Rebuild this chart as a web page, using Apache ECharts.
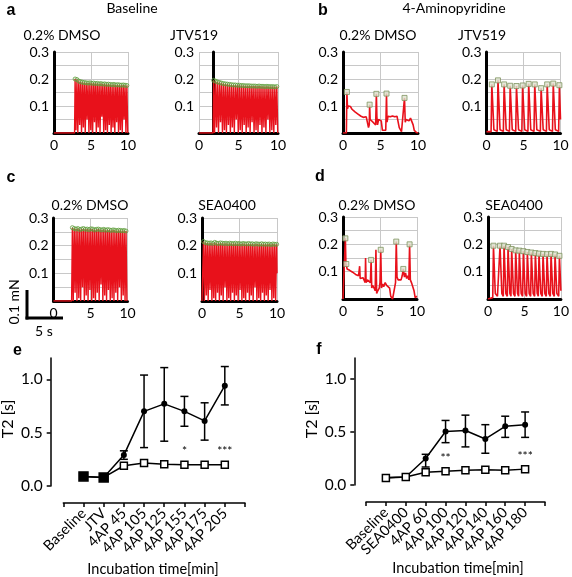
<!DOCTYPE html>
<html><head><meta charset="utf-8">
<script src="https://cdn.jsdelivr.net/npm/echarts@6/dist/echarts.min.js"></script>
<style>html,body{margin:0;padding:0;background:#fff}#c{width:572px;height:577px}</style>
</head><body><div id="c"></div>
<script>
// ---------- Top panels: force traces (time [s], force [mN]) ----------
const aL_trace = [[0,0],[2.78,0],
[2.85,0.200],[2.97,0.01],[3.1,0.198],[3.22,0],[3.35,0.192],[3.47,0.03],[3.6,0.19],[3.72,0],[3.85,0.188],[3.97,0.02],[4.1,0.187],[4.22,0],[4.35,0.186],[4.47,0.05],[4.6,0.185],[4.72,0],[4.85,0.186],[4.97,0.01],[5.1,0.184],[5.22,0],[5.35,0.185],[5.47,0.04],[5.6,0.183],[5.72,0],[5.85,0.184],[5.97,0.02],[6.1,0.182],[6.22,0],[6.35,0.183],[6.47,0.06],[6.6,0.181],[6.72,0],[6.85,0.182],[6.97,0.01],[7.1,0.18],[7.22,0],[7.35,0.181],[7.47,0.03],[7.6,0.18],[7.72,0],[7.85,0.179],[7.97,0.02],[8.1,0.18],[8.22,0],[8.35,0.178],[8.47,0.04],[8.6,0.179],[8.72,0],[8.85,0.178],[8.97,0.01],[9.1,0.177],[9.22,0],[9.35,0.178],[9.47,0.05],[9.6,0.177],[9.72,0],[9.85,0.176],[9.97,0]];
const aR_trace = [[0,0],[1.78,0],
[1.85,0.195],[1.97,0],[2.1,0.192],[2.22,0.02],[2.35,0.189],[2.47,0],[2.6,0.187],[2.72,0.04],[2.85,0.185],[2.97,0],[3.1,0.183],[3.22,0.01],[3.35,0.182],[3.47,0],[3.6,0.181],[3.72,0.03],[3.85,0.18],[3.97,0],[4.1,0.179],[4.22,0.02],[4.35,0.178],[4.47,0],[4.6,0.178],[4.72,0.05],[4.85,0.177],[4.97,0],[5.1,0.177],[5.22,0.01],[5.35,0.176],[5.47,0],[5.6,0.176],[5.72,0.03],[5.85,0.175],[5.97,0],[6.1,0.175],[6.22,0.02],[6.35,0.175],[6.47,0],[6.6,0.174],[6.72,0.04],[6.85,0.174],[6.97,0],[7.1,0.174],[7.22,0.01],[7.35,0.173],[7.47,0],[7.6,0.174],[7.72,0.03],[7.85,0.173],[7.97,0],[8.1,0.173],[8.22,0.02],[8.35,0.172],[8.47,0],[8.6,0.173],[8.72,0.05],[8.85,0.172],[8.97,0],[9.1,0.172],[9.22,0.01],[9.35,0.172],[9.47,0],[9.6,0.171],[9.72,0.03],[9.85,0.172],[9.97,0]];
const bL_trace = [[0,0],[0.45,0],[0.52,0.152],[0.6,0.09],[0.7,0.1],[0.85,0.095],[1.0,0.098],[1.2,0.088],[1.4,0.085],[1.6,0.078],[1.8,0.075],[2.0,0.07],[2.2,0.066],[2.4,0.062],[2.5,0.055],[2.7,0.058],[2.9,0.055],[3.1,0.06],[3.3,0.057],[3.4,0.02],[3.5,0.03],[3.55,0.105],[3.62,0.05],[3.8,0.045],[4.0,0.04],[4.2,0.035],[4.35,0.03],[4.45,0.145],[4.52,0.06],[4.6,0.03],[4.75,0.05],[4.9,0.045],[5.1,0.045],[5.25,0.01],[5.5,0.005],[5.7,0.01],[5.8,0.146],[5.87,0.04],[6.0,0.062],[6.3,0.06],[6.6,0.063],[6.9,0.06],[7.2,0.062],[7.4,0.055],[7.5,0.02],[7.8,0.005],[8.05,0.01],[8.2,0.13],[8.3,0.04],[8.4,0.05],[8.6,0.055],[8.8,0.045],[9.0,0.055],[9.2,0.05],[9.35,0.03],[9.5,0.01],[9.8,0.002],[10,0]];
const bL_marks = [[0.52,0.152],[3.55,0.105],[4.45,0.145],[5.8,0.146],[8.2,0.13]];
const bR_trace = [[0,0.005],[0.62,0.005],[0.72,0.18],[1.0,0.012],[1.45,0.006],[1.55,0.195],[1.83,0.012],[2.28,0.006],[2.38,0.18],[2.66,0.012],[3.1,0.006],[3.2,0.175],[3.48,0.012],[3.95,0.006],[4.05,0.174],[4.33,0.012],[4.78,0.006],[4.88,0.176],[5.16,0.012],[5.6,0.006],[5.7,0.182],[5.98,0.012],[6.42,0.006],[6.52,0.18],[6.8,0.012],[7.28,0.006],[7.38,0.166],[7.66,0.012],[8.1,0.006],[8.2,0.18],[8.48,0.012],[8.92,0.006],[9.02,0.183],[9.3,0.012],[9.75,0.006],[9.85,0.177],[10,0.05]];
const cL_trace = [[0,0],[2.45,0],
[2.55,0.265],[2.67,0],[2.8,0.262],[2.92,0.03],[3.05,0.26],[3.17,0],[3.3,0.262],[3.42,0.01],[3.55,0.258],[3.67,0],[3.8,0.26],[3.92,0.05],[4.05,0.262],[4.17,0],[4.3,0.259],[4.42,0.02],[4.55,0.26],[4.67,0],[4.8,0.258],[4.92,0.04],[5.05,0.261],[5.17,0],[5.3,0.26],[5.42,0.01],[5.55,0.257],[5.67,0],[5.8,0.259],[5.92,0.03],[6.05,0.26],[6.17,0],[6.3,0.258],[6.42,0.06],[6.55,0.257],[6.67,0],[6.8,0.259],[6.92,0.02],[7.05,0.256],[7.17,0],[7.3,0.258],[7.42,0.04],[7.55,0.257],[7.67,0],[7.8,0.255],[7.92,0.01],[8.05,0.257],[8.17,0],[8.3,0.256],[8.42,0.03],[8.55,0.254],[8.67,0],[8.8,0.256],[8.92,0.05],[9.05,0.255],[9.17,0],[9.3,0.254],[9.42,0.02],[9.55,0.255],[9.67,0],[9.8,0.253],[9.92,0]];
const cR_trace = [[0,0],[0.1,0],
[0.2,0.215],[0.32,0],[0.45,0.211],[0.57,0.02],[0.7,0.21],[0.82,0],[0.95,0.209],[1.07,0.04],[1.2,0.21],[1.32,0],[1.45,0.208],[1.57,0.01],[1.7,0.212],[1.82,0],[1.95,0.209],[2.07,0.03],[2.2,0.208],[2.32,0],[2.45,0.21],[2.57,0.02],[2.7,0.209],[2.82,0],[2.95,0.208],[3.07,0.05],[3.2,0.209],[3.32,0],[3.45,0.207],[3.57,0.01],[3.7,0.209],[3.82,0],[3.95,0.208],[4.07,0.03],[4.2,0.207],[4.32,0],[4.45,0.209],[4.57,0.02],[4.7,0.207],[4.82,0],[4.95,0.208],[5.07,0.04],[5.2,0.206],[5.32,0],[5.45,0.208],[5.57,0.01],[5.7,0.207],[5.82,0],[5.95,0.206],[6.07,0.03],[6.2,0.208],[6.32,0],[6.45,0.206],[6.57,0.02],[6.7,0.207],[6.82,0],[6.95,0.205],[7.07,0.05],[7.2,0.207],[7.32,0],[7.45,0.206],[7.57,0.01],[7.7,0.205],[7.82,0],[7.95,0.207],[8.07,0.03],[8.2,0.205],[8.32,0],[8.45,0.206],[8.57,0.02],[8.7,0.205],[8.82,0],[8.95,0.206],[9.07,0.04],[9.2,0.204],[9.32,0],[9.45,0.206],[9.57,0.01],[9.7,0.205],[9.82,0],[9.95,0.205],[10,0.1]];
const dL_trace = [[0,0],[0.25,0],[0.32,0.222],[0.4,0.12],[0.45,0.128],[0.55,0.11],[0.7,0.112],[0.9,0.105],[1.1,0.1],[1.3,0.098],[1.5,0.095],[1.7,0.09],[1.9,0.088],[2.1,0.085],[2.2,0.08],[2.25,0.12],[2.32,0.075],[2.5,0.082],[2.7,0.078],[2.9,0.075],[3.0,0.06],[3.05,0.15],[3.12,0.06],[3.3,0.07],[3.5,0.065],[3.7,0.06],[3.8,0.143],[3.88,0.04],[4.0,0.05],[4.2,0.04],[4.35,0.03],[4.45,0.18],[4.55,0.02],[4.7,0.03],[4.9,0.04],[5.0,0.06],[5.1,0.18],[5.2,0.04],[5.35,0.055],[5.5,0.045],[5.7,0.06],[5.9,0.05],[6.1,0.055],[6.3,0.04],[6.45,0.01],[6.7,0.0],[6.95,0.005],[7.1,0.06],[7.2,0.21],[7.3,0.08],[7.45,0.07],[7.65,0.075],[7.85,0.07],[8.0,0.085],[8.15,0.11],[8.3,0.08],[8.45,0.095],[8.6,0.075],[8.75,0.085],[8.9,0.07],[9.0,0.2],[9.1,0.07],[9.25,0.06],[9.45,0.055],[9.6,0.03],[9.75,0.005],[9.9,0.01],[10,0.01]];
const dL_marks = [[0.32,0.222],[0.45,0.128],[3.8,0.143],[5.1,0.18],[7.2,0.21],[8.15,0.11],[9.0,0.2]];
const dR_trace = [[0,0],[0.65,0.005],[0.75,0.195],[1.0,0.02],[1.3,0.01],[1.55,0.008],[1.65,0.195],[1.9,0.02],[2.1,0.01],[2.2,0.195],[2.45,0.02],[2.65,0.01],[2.75,0.19],[3.0,0.02],[3.15,0.01],[3.25,0.183],[3.5,0.02],[3.7,0.01],[3.8,0.178],[4.05,0.02],[4.2,0.01],[4.3,0.177],[4.55,0.02],[4.75,0.01],[4.85,0.175],[5.1,0.02],[5.3,0.01],[5.4,0.172],[5.65,0.02],[5.85,0.01],[5.95,0.17],[6.2,0.02],[6.4,0.01],[6.5,0.168],[6.75,0.02],[6.9,0.01],[7.0,0.166],[7.25,0.02],[7.45,0.01],[7.55,0.165],[7.8,0.02],[8.0,0.01],[8.1,0.164],[8.35,0.02],[8.55,0.01],[8.65,0.165],[8.9,0.02],[9.1,0.01],[9.2,0.163],[9.45,0.02],[9.7,0.01],[9.8,0.158],[10,0.03]];
const traceXTicks = [0, 5, 10];
const traceYTicks = [0.1, 0.2, 0.3];

// ---------- Bottom panels: T2 [s] ----------
const eCats = ['Baseline','JTV','4AP 45','4AP 105','4AP 125','4AP 155','4AP 175','4AP 205'];
const eCircle = [0.09, 0.08, 0.29, 0.70, 0.77, 0.70, 0.61, 0.94];
const eLo = [null, null, 0.25, 0.36, 0.42, 0.56, 0.43, 0.76];
const eHi = [null, null, 0.33, 1.04, 1.11, 0.84, 0.78, 1.12];
const eSquare = [0.09, 0.08, 0.19, 0.215, 0.205, 0.2, 0.2, 0.2];
const eStars = ['', '', '', '', '', '*', '', '***'];

const fCats = ['Baseline','SEA0400','4AP 60','4AP 100','4AP 120','4AP 140','4AP 160','4AP 180'];
const fCircle = [0.07, 0.075, 0.25, 0.505, 0.515, 0.435, 0.555, 0.57];
const fLo = [null, null, 0.17, 0.40, 0.36, 0.30, 0.45, 0.45];
const fHi = [null, null, 0.29, 0.61, 0.66, 0.57, 0.65, 0.69];
const fSquare = [0.065, 0.075, 0.12, 0.13, 0.14, 0.145, 0.14, 0.15];
const fStars = ['', '', '', '**', '', '', '', '***'];
const t2Ticks = [0, 0.5, 1.0];

// ---------- build ----------
const FONT = 'Lato, "Open Sans", sans-serif';
const RED = '#e8111b';
function peaksOf(tr){
  const out=[];
  for(let i=1;i<tr.length-1;i++){ if(tr[i][1]>tr[i-1][1] && tr[i][1]>=tr[i+1][1] && tr[i][1]>0.1) out.push(tr[i]); }
  return out;
}
const panels = [
  {tr:aL_trace, mk:null, sym:'circle', dense:true, g:{left:54,top:52,width:74,height:81}},
  {tr:aR_trace, mk:null, sym:'circle', dense:true, g:{left:199,top:52,width:79,height:81}, yOff:-14},
  {tr:bL_trace, mk:bL_marks, sym:'rect', g:{left:343,top:52,width:75,height:81}},
  {tr:bR_trace, mk:null, sym:'rect', g:{left:486.5,top:52,width:74,height:81}},
  {tr:cL_trace, mk:null, sym:'circle', dense:true, g:{left:53.5,top:218,width:74,height:83}},
  {tr:cR_trace, mk:null, sym:'circle', dense:true, g:{left:202,top:218,width:75,height:83}},
  {tr:dL_trace, mk:dL_marks, sym:'rect', g:{left:343,top:217,width:74,height:82}},
  {tr:dR_trace, mk:null, sym:'rect', g:{left:488,top:217,width:74,height:82}}
];
const grid=[], xAxis=[], yAxis=[], series=[];
panels.forEach((p,i)=>{
  grid.push(p.g);
  xAxis.push({gridIndex:i,type:'value',min:0,max:10,interval:5,
    axisLine:{show:true,onZero:false,lineStyle:{color:'#000',width:3}},
    axisTick:{show:false},
    axisLabel:{color:'#000',fontSize:14,fontFamily:FONT,margin:5,customValues:traceXTicks},
    splitLine:{show:true,lineStyle:{color:'#c8c8c8',width:1}}});
  const yi = yAxis.length;
  yAxis.push({gridIndex:i,type:'value',position:'left',min:0,max:0.3,interval:0.05,
    axisLine:{show:!p.yOff,onZero:false,lineStyle:{color:'#000',width:3}},
    axisTick:{show:false},
    axisLabel:{color:'#000',fontSize:14,fontFamily:FONT,margin:5,customValues:traceYTicks,formatter:v=>v.toFixed(1)},
    splitLine:{show:true,lineStyle:{color:'#c8c8c8',width:1}}});
  if(p.yOff){
    yAxis.push({gridIndex:i,type:'value',position:'left',min:0,max:0.3,offset:p.yOff,
      axisLine:{show:true,onZero:false,lineStyle:{color:'#000',width:3}},
      axisTick:{show:false},axisLabel:{show:false},splitLine:{show:false}});
  }
  series.push({type:'line',xAxisIndex:i,yAxisIndex:yi,data:p.tr,symbol:'none',silent:true,
    lineStyle:{color:RED,width:p.dense?1.4:1.6},z:2});
  const mk = p.mk || peaksOf(p.tr);
  series.push({type:'scatter',xAxisIndex:i,yAxisIndex:yi,data:mk,silent:true,
    symbol:p.sym,symbolSize:p.sym==='rect'?5:4,
    itemStyle: p.sym==='rect' ? {color:'#dfe3cf',borderColor:'#7f9460',borderWidth:1} : {color:'rgba(255,255,255,0)',borderColor:'#5f9e3c',borderWidth:1},z:3});
});

function t2Panel(gi, g, cats, circ, lo, hi, sq, stars, yOff){
  grid.push(g);
  const xi = xAxis.length, yi = yAxis.length;
  xAxis.push({gridIndex:gi,type:'value',min:-1,max:8,interval:1,offset:17,
    axisLine:{show:true,onZero:false,lineStyle:{color:'#000',width:1.5}},
    axisTick:{show:true,length:4,lineStyle:{color:'#000',width:1.5}},
    axisLabel:{rotate:45,fontSize:14.5,fontFamily:FONT,color:'#000',margin:8,formatter:v=>cats[v]!==undefined?cats[v]:''},
    splitLine:{show:false}});
  yAxis.push({gridIndex:gi,type:'value',min:0,max:1.2,offset:yOff,
    axisLine:{show:true,onZero:false,lineStyle:{color:'#000',width:1.5}},
    axisTick:{show:true,length:4,customValues:t2Ticks,lineStyle:{color:'#000',width:1.5}},
    axisLabel:{fontSize:15.5,fontFamily:FONT,color:'#000',margin:8,customValues:t2Ticks,formatter:v=>v.toFixed(1)},
    splitLine:{show:false}});
  const eb = [];
  lo.forEach((l,i)=>{ if(l!==null) eb.push([i,l,hi[i]]); });
  series.push({type:'custom',xAxisIndex:xi,yAxisIndex:yi,data:eb,encode:{x:0,y:[1,2]},z:2,silent:true,
    renderItem:(params,api)=>{
      const x=api.value(0), a=api.coord([x,api.value(1)]), b=api.coord([x,api.value(2)]);
      const w=4, st={stroke:'#000',lineWidth:1.5};
      return {type:'group',children:[
        {type:'line',shape:{x1:a[0],y1:a[1],x2:b[0],y2:b[1]},style:st},
        {type:'line',shape:{x1:a[0]-w,y1:a[1],x2:a[0]+w,y2:a[1]},style:st},
        {type:'line',shape:{x1:b[0]-w,y1:b[1],x2:b[0]+w,y2:b[1]},style:st}]};
    }});
  series.push({type:'line',xAxisIndex:xi,yAxisIndex:yi,data:circ.map((v,i)=>[i,v]),
    symbol:'circle',symbolSize:6,itemStyle:{color:'#000'},lineStyle:{color:'#000',width:1.5},z:3,silent:true});
  series.push({type:'line',xAxisIndex:xi,yAxisIndex:yi,
    data:sq.map((v,i)=>(gi===8 && i<2)?{value:[i,v],symbolSize:9,itemStyle:{color:'#000'}}:{value:[i,v]}),
    symbol:'rect',symbolSize:7,itemStyle:{color:'#fff',borderColor:'#000',borderWidth:1.5},
    lineStyle:{color:'#000',width:1.5},z:4,silent:true,
    label:{show:true,position:'top',distance:3,fontSize:12,fontFamily:FONT,color:'#000',formatter:p=>stars[p.dataIndex]}});
}
t2Panel(8,{left:63.3,top:358,width:181.7,height:128},eCats,eCircle,eLo,eHi,eSquare,eStars,12.6);
t2Panel(9,{left:366,top:358,width:179,height:127},fCats,fCircle,fLo,fHi,fSquare,fStars,11.7);

function txt(x,y,s,opt){return Object.assign({type:'text',x:x,y:y,style:Object.assign({text:s,fill:'#000',font:'14px '+FONT,textAlign:'center',textVerticalAlign:'middle'},opt||{})});}
const bold = 'bold 16px "Liberation Sans", Arial, sans-serif';
const graphic = [
  txt(11,11,'a',{font:bold}), txt(132,8,'Baseline'),
  txt(323,11,'b',{font:bold}), txt(454,8,'4-Aminopyridine'),
  txt(62,35,'0.2% DMSO'), txt(194,35,'JTV519'), txt(378,35,'0.2% DMSO'), txt(482,35,'JTV519'),
  txt(11,178,'c',{font:bold}), txt(320,177,'d',{font:bold}),
  txt(90,205,'0.2% DMSO'), txt(227,205,'SEA0400'), txt(377,205,'0.2% DMSO'), txt(514,205,'SEA0400'),
  {type:'line',shape:{x1:27,y1:290,x2:27,y2:319.5},style:{stroke:'#000',lineWidth:3}},
  {type:'line',shape:{x1:25.5,y1:318,x2:63,y2:318},style:{stroke:'#000',lineWidth:3}},
  {type:'text',x:14,y:302,rotation:Math.PI/2,style:{text:'0.1 mN',fill:'#000',font:'14px '+FONT,textAlign:'center',textVerticalAlign:'middle'}},
  txt(44,331,'5 s'),
  txt(17.5,351,'e',{font:bold}), txt(319,350,'f',{font:bold}),
  {type:'text',x:8,y:419,rotation:Math.PI/2,style:{text:'T2 [s]',fill:'#000',font:'16px '+FONT,textAlign:'center',textVerticalAlign:'middle'}},
  {type:'text',x:312,y:419,rotation:Math.PI/2,style:{text:'T2 [s]',fill:'#000',font:'16px '+FONT,textAlign:'center',textVerticalAlign:'middle'}},
  txt(153,569,'Incubation time[min]',{font:'14.5px '+FONT}),
  txt(458,568,'Incubation time[min]',{font:'14.5px '+FONT})
];

const chart = echarts.init(document.getElementById('c'), null, {renderer:'canvas'});
chart.setOption({animation:false,backgroundColor:'#fff',grid,xAxis,yAxis,series,graphic});
</script></body></html>
